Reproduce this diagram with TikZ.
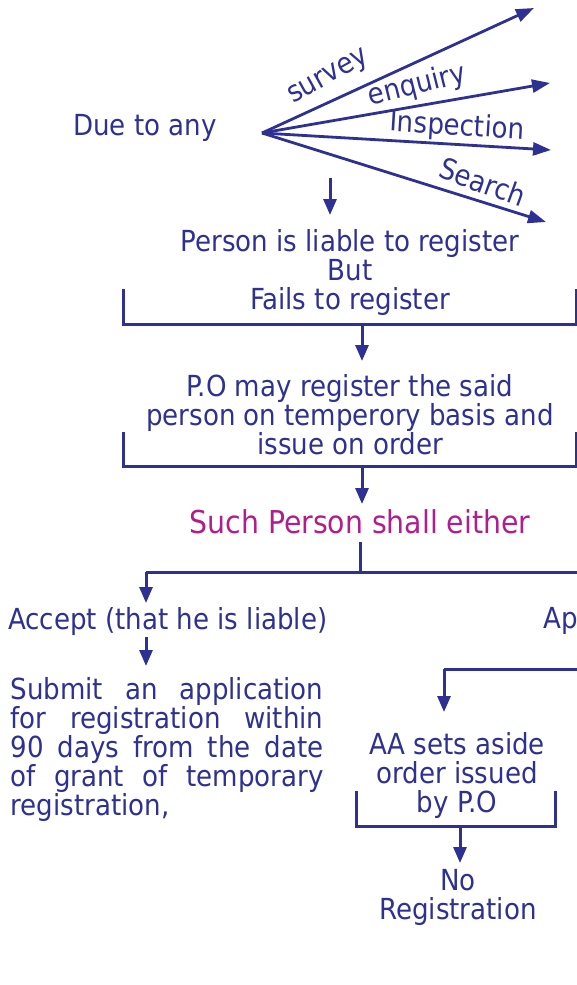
\documentclass[tikz,border=0pt]{standalone}
\usepackage{fontspec}
\setmainfont{DejaVu Sans Condensed}
\usetikzlibrary{arrows.meta}
\definecolor{ink}{RGB}{46,49,146}
\definecolor{plum}{RGB}{176,30,140}
\begin{document}
\begin{tikzpicture}[x=1pt,y=-1pt,
  txt/.style={text=ink,font=\fontsize{29}{29}\selectfont,inner sep=0pt,align=center},
  lbl/.style={text=ink,font=\fontsize{29}{29}\selectfont,inner sep=0pt},
  link/.style={draw=ink,line width=3pt},
  arr/.style={link,-{Triangle[length=16pt,width=13pt]}},
  fan/.style={draw=ink,line width=2.8pt,-{Triangle[length=18pt,width=13pt]}},
]
\useasboundingbox (0,0) rectangle (577,985);

% --- fan of causes ---
\node[txt] (due) at (145,128) {Due to any};
\coordinate (hub) at (262,133);
\coordinate (tsurvey) at (534,8);
\coordinate (tenquiry) at (550,83);
\coordinate (tinspect) at (551,150);
\coordinate (tsearch) at (546,222);
\draw[fan] (hub) -- (tsurvey);
\draw[fan] (hub) -- (tenquiry);
\draw[fan] (hub) -- (tinspect);
\draw[fan] (hub) -- (tsearch);
\node[lbl,rotate=29] (lsurvey) at (329,78) {survey};
\node[lbl,rotate=14] (lenquiry) at (417,86) {enquiry};
\node[lbl,rotate=-3.5] (linspect) at (457,127) {Inspection};
\node[lbl,rotate=-20] (lsearch) at (483,182) {Search};

\coordinate (d0) at (330,178);
\coordinate (d1) at (330,215);
\draw[arr] (d0) -- (d1);

% --- liable but fails ---
\node[txt] (liable) at (350,272) {Person is liable to register\\But\\Fails to register};
\coordinate (b1a) at (123,289);
\coordinate (b1b) at (123,324);
\coordinate (b1c) at (576,324);
\coordinate (b1d) at (576,289);
\draw[link] (b1a) -- (b1b) -- (b1c) -- (b1d);
\coordinate (b1m) at (362,324);
\coordinate (b1t) at (362,361);
\draw[arr] (b1m) -- (b1t);

% --- temporary registration ---
\node[txt] (po) at (350,415) {P.O may register the said\\person on temperory basis and\\issue on order};
\coordinate (b2a) at (123,432);
\coordinate (b2b) at (123,466);
\coordinate (b2c) at (576,466);
\coordinate (b2d) at (576,432);
\draw[link] (b2a) -- (b2b) -- (b2c) -- (b2d);
\coordinate (b2m) at (362,466);
\coordinate (b2t) at (362,504);
\draw[arr] (b2m) -- (b2t);

\node[txt,text=plum,font=\fontsize{31.5}{32}\selectfont] (either) at (360,522) {Such Person shall either};

% --- split ---
\coordinate (s0) at (360,542);
\coordinate (s1) at (360,572);
\coordinate (sl) at (146,572);
\coordinate (sr) at (577,572);
\draw[link] (s0) -- (s1);
\draw[link] (sl) -- (sr);
\coordinate (sla) at (146,603);
\draw[arr] (sl) -- (sla);

\node[lbl,anchor=west] (accept) at (8,621) {Accept (that he is liable)};
\node[lbl,anchor=west] (appeal) at (543,621) {Ap};

\coordinate (a0) at (146,637);
\coordinate (a1) at (146,666);
\draw[arr] (a0) -- (a1);

\node[txt,align=justify,text width=313pt] (submit) at (167,749)
  {Submit an application\linebreak for registration within\linebreak 90 days from the date\linebreak of grant of temporary\linebreak registration,};

% --- appeal branch ---
\coordinate (r0) at (577,669);
\coordinate (r1) at (444,669);
\coordinate (r2) at (444,712);
\draw[link] (r0) -- (r1);
\draw[arr] (r1) -- (r2);

\node[txt] (aside) at (457,775) {AA sets aside\\order issued\\by P.O};
\coordinate (b3a) at (356,791);
\coordinate (b3b) at (356,826);
\coordinate (b3c) at (555,826);
\coordinate (b3d) at (555,791);
\draw[link] (b3a) -- (b3b) -- (b3c) -- (b3d);
\coordinate (b3m) at (460,826);
\coordinate (b3t) at (460,863);
\draw[arr] (b3m) -- (b3t);

\node[txt] (noreg) at (458,897) {No\\Registration};
\end{tikzpicture}
\end{document}
